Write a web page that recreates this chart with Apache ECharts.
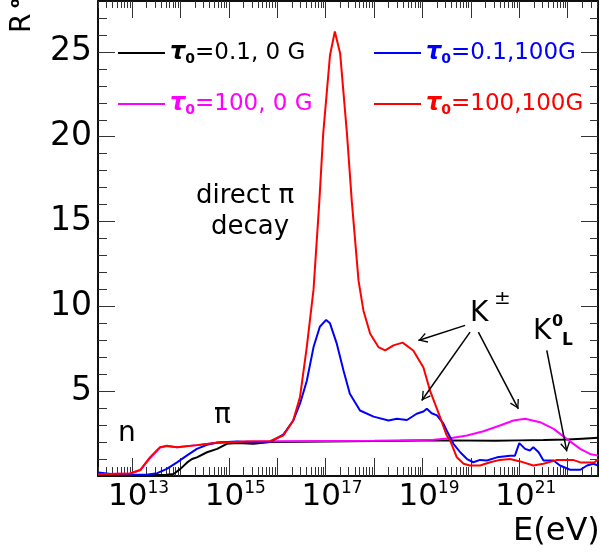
<!DOCTYPE html>
<html>
<head>
<meta charset="utf-8">
<script src="https://cdn.jsdelivr.net/npm/echarts@6/dist/echarts.min.js"></script>
<style>
  html, body { margin: 0; padding: 0; background: #fff; }
  #chart { width: 601px; height: 552px; }
</style>
</head>
<body>
<div id="chart"></div>
<script>
// x values are log10(E / eV), y values are R0

// tau0 = 0.1, 0 G
const blackE = [12.30, 13.40, 13.72, 13.86, 14.00, 14.14, 14.24, 14.34, 14.55, 14.76, 14.96, 15.17, 15.51, 15.85, 16.5, 17.5, 18.5, 19.5, 20.5, 21.0, 21.5, 22.0, 22.3, 22.63];
const blackR = [0.05, 0.05, 0.08, 0.12, 0.42, 0.8, 1.0, 1.1, 1.4, 1.6, 1.9, 1.94, 1.9, 2.0, 2.02, 2.05, 2.08, 2.1, 2.08, 2.1, 2.12, 2.15, 2.2, 2.25];

// tau0 = 100, 0 G
const magentaE = [12.30, 12.96, 13.17, 13.37, 13.58, 13.72, 13.93, 14.34, 14.76, 15.38, 16.0, 17.0, 18.0, 18.54, 19.23, 19.57, 19.92, 20.26, 20.60, 20.88, 21.12, 21.43, 21.71, 21.98, 22.26, 22.46, 22.63];
const magentaR = [0.1, 0.15, 0.35, 1.05, 1.68, 1.76, 1.7, 1.82, 1.96, 2.03, 2.05, 2.07, 2.08, 2.1, 2.13, 2.23, 2.39, 2.64, 2.98, 3.27, 3.37, 3.17, 2.78, 2.19, 1.6, 1.3, 1.2];

// tau0 = 0.1, 100 G
const blueE = [12.30, 12.70, 13.30, 13.52, 13.72, 13.93, 14.13, 14.34, 14.55, 14.76, 15.17, 15.44, 15.85, 16.13, 16.33, 16.47, 16.61, 16.75, 16.88, 17.01, 17.09, 17.23, 17.37, 17.50, 17.71, 17.99, 18.30, 18.47, 18.68, 18.88, 19.02, 19.09, 19.19, 19.30, 19.43, 19.50, 19.64, 19.78, 19.92, 20.05, 20.19, 20.33, 20.54, 20.81, 20.91, 21.00, 21.12, 21.22, 21.29, 21.40, 21.50, 21.71, 21.84, 22.05, 22.26, 22.40, 22.53, 22.63];
const blueR = [0.2, 0.08, 0.08, 0.17, 0.42, 0.8, 1.2, 1.6, 1.84, 1.98, 2.03, 1.98, 2.0, 2.45, 3.27, 4.26, 5.6, 7.6, 8.8, 9.2, 9.0, 7.8, 6.2, 4.85, 3.86, 3.5, 3.27, 3.37, 3.3, 3.67, 3.8, 3.96, 3.7, 3.57, 3.1, 2.68, 1.9, 1.4, 1.0, 0.81, 0.95, 0.91, 1.1, 1.2, 1.2, 1.94, 1.6, 1.5, 1.7, 1.4, 0.91, 0.91, 0.62, 0.37, 0.37, 0.62, 0.72, 0.62];

// tau0 = 100, 100 G
const redE = [12.30, 12.96, 13.17, 13.37, 13.58, 13.72, 13.93, 14.34, 14.76, 15.38, 15.85, 16.13, 16.33, 16.47, 16.61, 16.75, 16.87, 16.95, 17.09, 17.19, 17.30, 17.44, 17.54, 17.68, 17.78, 17.92, 18.09, 18.23, 18.40, 18.59, 18.81, 19.02, 19.16, 19.36, 19.50, 19.57, 19.71, 19.85, 19.98, 20.19, 20.40, 20.60, 20.81, 21.02, 21.29, 21.50, 21.78, 22.11, 22.26, 22.55, 22.63];
const redR = [0.1, 0.15, 0.35, 1.1, 1.7, 1.78, 1.7, 1.82, 1.96, 2.03, 2.05, 2.4, 3.27, 4.65, 7.6, 11.0, 16.2, 20.2, 24.8, 26.2, 24.9, 20.2, 16.2, 11.5, 9.76, 8.39, 7.6, 7.4, 7.7, 7.86, 7.4, 6.4, 5.0, 3.5, 2.4, 2.1, 1.1, 0.72, 0.62, 0.62, 0.81, 0.95, 1.0, 0.86, 0.62, 0.72, 0.95, 0.95, 0.8, 0.8, 1.0];

// arrows: [fromLogE, fromR, toLogE, toR]
const arrows = [
  [19.88, 8.88, 18.915, 7.99],
  [19.983, 8.48, 18.985, 4.45],
  [20.155, 8.48, 20.981, 3.96],
  [21.568, 7.40, 21.981, 1.45]
];

const xMin = 12.2975, xMax = 22.626;
const yMin = 0, yMax = 28;
const decades = [13, 14, 15, 16, 17, 18, 19, 20, 21, 22];
const labelDecades = [13, 15, 17, 19, 21];
const yLabels = [5, 10, 15, 20, 25];

const FONT = '"DejaVu Sans", sans-serif';

// minor log ticks 2..9 in every decade
const minorX = [];
for (let n = 12; n <= 22; n++) {
  for (let k = 2; k <= 9; k++) {
    const v = n + Math.log10(k);
    if (v > xMin && v < xMax) minorX.push(v);
  }
}
const minorY = [];
for (let i = 1; i < yMax; i++) minorY.push(i);

const zip = (a, b) => a.map((v, i) => [v, b[i]]);

function xAx(pos, ticks, len, withLabels) {
  return {
    type: 'value', position: pos, min: xMin, max: xMax,
    axisLine: { show: true, onZero: false, lineStyle: { color: '#000', width: 1.5 } },
    axisTick: { show: true, inside: true, length: len, customValues: ticks, lineStyle: { color: '#333', width: 1 } },
    axisLabel: withLabels ? {
      show: true,
      customValues: labelDecades,
      margin: 4,
      padding: [0, 0, 0, 13],
      formatter: v => '{b|10}{e|' + Math.round(v) + '}',
      rich: {
        b: { fontSize: 31, fontFamily: FONT, color: '#000', lineHeight: 34 },
        e: { fontSize: 17, fontFamily: FONT, color: '#000', lineHeight: 17, verticalAlign: 'top' }
      }
    } : { show: false },
    splitLine: { show: false }
  };
}

function yAx(pos, ticks, len, withLabels) {
  return {
    type: 'value', position: pos, min: yMin, max: yMax,
    axisLine: { show: true, onZero: false, lineStyle: { color: '#000', width: 1.5 } },
    axisTick: { show: true, inside: true, length: len, customValues: ticks, lineStyle: { color: '#333', width: 1 } },
    axisLabel: withLabels ? {
      show: true, customValues: yLabels, margin: 6,
      fontSize: 33, fontFamily: FONT, color: '#000'
    } : { show: false },
    splitLine: { show: false }
  };
}

const legendKey = {
  'τ0=0.1, 0 G': 'k',
  'τ0=100, 0 G': 'm',
  'τ0=0.1,100G': 'b',
  'τ0=100,100G': 'r'
};
const richLegend = {};
[['k', '#000000'], ['m', '#ff00ff'], ['b', '#0000ff'], ['r', '#ff0000']].forEach(([k, c]) => {
  richLegend['t' + k] = { fontSize: 24, fontStyle: 'italic', fontWeight: 'bold', color: c, fontFamily: FONT, lineHeight: 26 };
  richLegend['s' + k] = { fontSize: 14, fontWeight: 'bold', color: c, fontFamily: FONT, lineHeight: 14, verticalAlign: 'bottom' };
  richLegend['v' + k] = { fontSize: 23, color: c, fontFamily: FONT, lineHeight: 26 };
});
const legendFmt = name => {
  const k = legendKey[name];
  return '{t' + k + '|τ}{s' + k + '|0}{v' + k + '|' + name.slice(2) + '}';
};
function legend(left, names) {
  return {
    data: names, left: left, top: 41, orient: 'vertical', padding: 0,
    icon: 'rect', itemWidth: 47, itemHeight: 2, itemGap: 26, selectedMode: false,
    formatter: legendFmt, textStyle: { rich: richLegend }
  };
}

function line(name, color, data, extra) {
  return Object.assign({
    name: name, type: 'line', data: data, symbol: 'none', showSymbol: false,
    xAxisIndex: 0, yAxisIndex: 0,
    lineStyle: { color: color, width: 2 }, itemStyle: { color: color },
    emphasis: { disabled: true }
  }, extra || {});
}

// open chevron, tip in the middle of its box so it ends on the coordinate
const chevron = 'path://M50,0 L100,80 L88,86 L50,22 L12,86 L0,80 Z M50,-86 L50.1,-86';

function txt(x, y, text, font, extra) {
  return Object.assign({
    type: 'text', x: x, y: y, silent: true,
    style: { text: text, font: font, fill: '#000', align: 'left', verticalAlign: 'middle', textAlign: 'left', textVerticalAlign: 'middle' }
  }, extra || {});
}

const chart = echarts.init(document.getElementById('chart'));
chart.setOption({
  animation: false,
  grid: { left: 98, right: 3, top: 1, bottom: 76, containLabel: false },
  xAxis: [
    xAx('bottom', decades, 18, true),
    xAx('bottom', minorX, 9, false),
    xAx('top', decades, 17, false),
    xAx('top', minorX, 7, false)
  ],
  yAxis: [
    yAx('left', yLabels, 17, true),
    yAx('left', minorY, 9, false),
    yAx('right', yLabels, 17, false),
    yAx('right', minorY, 8, false)
  ],
  legend: [
    legend(118, ['τ0=0.1, 0 G', 'τ0=100, 0 G']),
    legend(374, ['τ0=0.1,100G', 'τ0=100,100G'])
  ],
  series: [
    line('τ0=0.1, 0 G', '#000000', zip(blackE, blackR), {
      markLine: {
        silent: true, animation: false,
        symbol: ['none', chevron], symbolSize: [10, 18],
        label: { show: false },
        lineStyle: { color: '#000', width: 1.5, type: 'solid' },
        data: arrows.map(a => [{ coord: [a[0], a[1]] }, { coord: [a[2], a[3]] }])
      }
    }),
    line('τ0=100, 0 G', '#ff00ff', zip(magentaE, magentaR)),
    line('τ0=0.1,100G', '#0000ff', zip(blueE, blueR)),
    line('τ0=100,100G', '#ff0000', zip(redE, redR))
  ],
  graphic: [
    txt(23, 33, 'R', '28px ' + FONT, { rotation: Math.PI / 2 }),
    txt(15, 8, 'o', 'bold 14px ' + FONT, { rotation: Math.PI / 2 }),
    txt(513, 532, 'E(eV)', '32px ' + FONT),
    txt(118, 434, 'n', '28px ' + FONT),
    txt(214, 416, 'π', '28px ' + FONT),
    txt(196, 196, 'direct π', '26px ' + FONT),
    txt(211, 227, 'decay', '26px ' + FONT),
    txt(470, 314, 'K', '28px ' + FONT),
    txt(494, 299, '±', '20px ' + FONT),
    txt(533, 332, 'K', '28px ' + FONT),
    txt(552, 322, '0', 'bold 16px ' + FONT),
    txt(562, 341, 'L', 'bold 17px ' + FONT)
  ]
});
</script>
</body>
</html>
